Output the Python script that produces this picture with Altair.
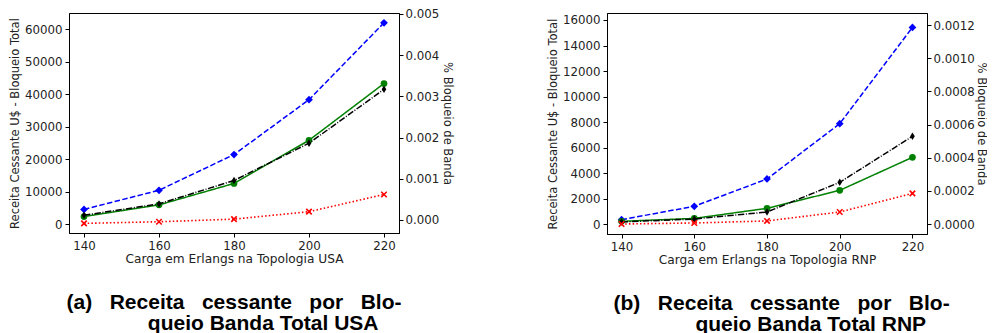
import altair as alt
import pandas as pd

loads = [140, 160, 180, 200, 220]

# Panel (a) USA
usa_blue = [4500, 10400, 21400, 38300, 62000]
usa_green = [2300, 5900, 12500, 25800, 43300]
usa_black = [2700, 6200, 13400, 24900, 41500]
usa_red = [200, 700, 1500, 3800, 9100]

# Panel (b) RNP
rnp_blue = [340, 1390, 3530, 7870, 15420]
rnp_green = [210, 440, 1230, 2640, 5230]
rnp_black = [160, 390, 940, 3270, 6880]
rnp_red = [0, 80, 240, 940, 2400]

usa_left_ticks = [0, 10000, 20000, 30000, 40000, 50000, 60000]
usa_right_ticks = [0.0, 0.001, 0.002, 0.003, 0.004, 0.005]
rnp_left_ticks = [0, 2000, 4000, 6000, 8000, 10000, 12000, 14000, 16000]
rnp_right_ticks = [0.0, 0.0002, 0.0004, 0.0006, 0.0008, 0.0010, 0.0012]

series_names = ["blue", "green", "black", "red"]

NB = "\u00a0"
ZW = "\u200b"

styles = {
    "blue": dict(color="#0000ff", dash=[5.5, 2.4], shape="diamond", filled=True, size=60, sw=1.5),
    "green": dict(color="#008000", dash=[1, 0], shape="circle", filled=True, size=45, sw=1.5),
    "black": dict(color="#000000", dash=[6.4, 1.6, 1, 1.6], shape="M0,-1L0.62,0L0,1L-0.62,0Z", filled=True, size=55, sw=1.5),
    "red": dict(color="#ff0000", dash=[1.5, 2.2], shape="M-1,-1L1,1M1,-1L-1,1", filled=False, size=30, sw=1.6),
}

AX = dict(
    labelFont="DejaVu Sans",
    labelFontSize=11.8,
    labelColor="#222222",
    titleFont="DejaVu Sans",
    titleFontWeight="normal",
    titleColor="#222222",
    domainColor="#000000",
    tickColor="#000000",
    tickSize=4,
    grid=False,
    labelOverlap=False,
)


def panel(vals, left_dom, left_ticks, right_dom, right_ticks, right_fmt, xtitle, caption, w, h, right_tpad):
    rows = []
    for name, series in zip(series_names, vals):
        for x, v in zip(loads, series):
            rows.append({"load": x, "value": v, "series": name})
    df = pd.DataFrame(rows)

    xenc = alt.X(
        "load:Q",
        scale=alt.Scale(domain=[136, 224], nice=False, zero=False),
        axis=alt.Axis(values=loads, format="d", title=xtitle, titlePadding=1, titleFontSize=12.2, labelPadding=3, **AX),
    )
    yaxis = alt.Axis(values=left_ticks, format="d", title="Receita Cessante U$ - Bloqueio Total",
                     titlePadding=4, titleFontSize=11.5, labelPadding=3, **AX)
    yenc = alt.Y("value:Q", scale=alt.Scale(domain=left_dom, nice=False, zero=False), axis=yaxis)
    layers = []
    for name in series_names:
        st = styles[name]
        base = alt.Chart(df).transform_filter(alt.datum.series == name)
        line = base.mark_line(color=st["color"], strokeDash=st["dash"], strokeWidth=st["sw"]).encode(x=xenc, y=yenc)
        if st["filled"]:
            pts = base.mark_point(shape=st["shape"], filled=True, size=st["size"], color=st["color"], opacity=1)
        else:
            pts = base.mark_point(shape=st["shape"], filled=False, size=st["size"], color=st["color"], opacity=1, strokeWidth=st["sw"])
        pts = pts.encode(x=xenc, y=yenc)
        layers += [line, pts]
    main = alt.layer(*layers)

    right = alt.Chart(pd.DataFrame({"r": right_ticks})).mark_point(opacity=0).encode(
        y=alt.Y(
            "r:Q",
            scale=alt.Scale(domain=right_dom, nice=False, zero=False),
            axis=alt.Axis(orient="right", values=right_ticks, format=right_fmt, title="% Bloqueio de Banda",
                          titlePadding=right_tpad, titleFontSize=11.5, labelPadding=2, **AX),
        )
    )
    return (
        alt.layer(main, right)
        .resolve_scale(y="independent")
        .properties(
            width=w,
            height=h,
            title=alt.TitleParams(
                caption,
                orient="bottom",
                anchor="middle",
                font="Liberation Sans",
                fontSize=21,
                fontWeight="bold",
                lineHeight=20.5,
                offset=27,
                color="#000000",
            ),
        )
    )


gap = NB * 3
cap_a = ["(a)" + gap + "Receita" + gap + "cessante" + gap + "por" + gap + "Blo-",
         ZW + NB * 10 + "queio Banda Total USA"]
cap_b = [ZW + NB * 5 + "(b)" + gap + "Receita" + gap + "cessante" + gap + "por" + gap + "Blo-",
         ZW + NB * 15 + "queio Banda Total RNP"]

left = panel(
    [usa_blue, usa_green, usa_black, usa_red],
    [-2770, 65020], usa_left_ticks,
    [-0.000316, 0.005024], usa_right_ticks, ".3f",
    "Carga em Erlangs na Topologia USA", cap_a, 330, 220, 3,
)
right = panel(
    [rnp_blue, rnp_green, rnp_black, rnp_red],
    [-784, 16549], rnp_left_ticks,
    [-0.0000603, 0.0012724], rnp_right_ticks, ".4f",
    "Carga em Erlangs na Topologia RNP", cap_b, 320, 221, 1,
)

chart = (
    alt.hconcat(left, right, spacing=92)
    .properties(padding=0)
    .configure_view(stroke="#000000", strokeWidth=1)
)

chart.save("out.html", embed_options={"renderer": "svg", "actions": False})
